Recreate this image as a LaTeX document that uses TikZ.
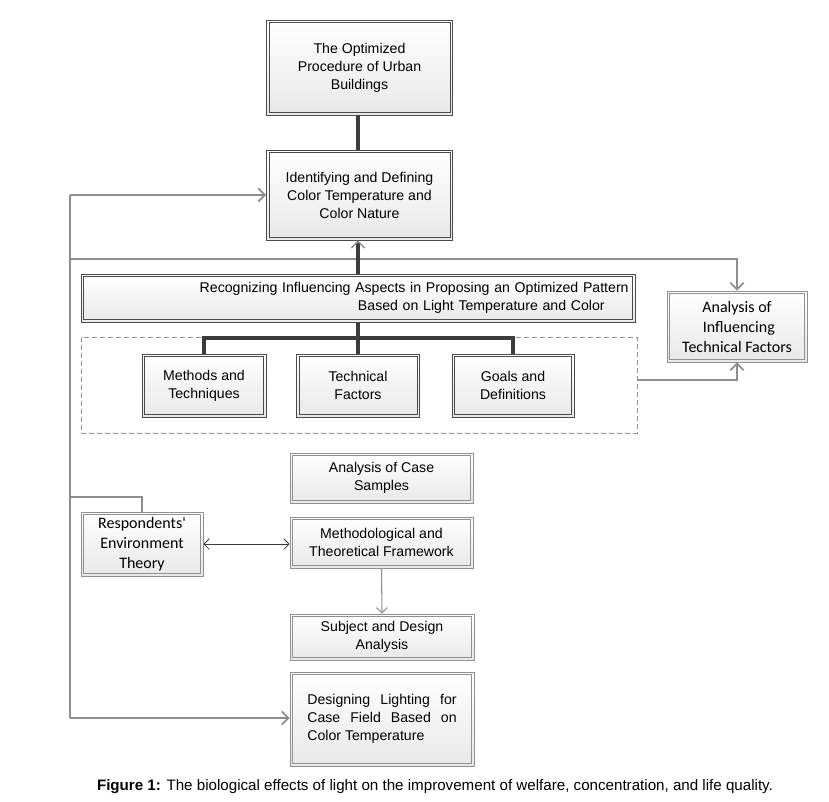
\documentclass[tikz,border=0pt]{standalone}
\usepackage{fontspec}
\setmainfont{Liberation Sans}
\newfontfamily\calfont{Carlito}
\usetikzlibrary{arrows.meta,shadings}
\definecolor{boxdark}{HTML}{4A4A4A}
\definecolor{boxlight}{HTML}{909090}
\definecolor{grayln}{HTML}{8E8E8E}
\definecolor{darkln}{HTML}{3C3C3C}
\definecolor{shadebot}{HTML}{E8E8E8}
\tikzset{
  innerline/.style={path picture={\draw[#1, line width=0.45pt]
     ([shift={(2pt,2pt)}]path picture bounding box.south west) rectangle
     ([shift={(-2pt,-2pt)}]path picture bounding box.north east);}},
  fbox/.style={rectangle, draw=boxdark, line width=0.55pt, innerline=boxdark,
    top color=white, bottom color=shadebot, align=center, inner sep=2pt,
    font=\fontsize{10.6}{13.5}\selectfont, text=black},
  lbox/.style={fbox, draw=boxlight, innerline=boxlight},
  cbox/.style={lbox, font=\calfont\fontsize{12}{15}\selectfont},
  dashbox/.style={rectangle, draw=boxlight, dashed, dash pattern=on 4pt off 2pt, line width=0.5pt},
  grayline/.style={draw=grayln, line width=2.2pt},
  grayarrow/.style={grayline, -{Straight Barb[length=5pt,width=10pt,line width=1.3pt]}},
  darkline/.style={draw=darkln, line width=3pt},
  thingray/.style={draw=grayln, line width=0.8pt, -{Straight Barb[length=4pt,width=8pt,line width=0.8pt]}},
  thinblack/.style={draw=darkln, line width=0.6pt, {Straight Barb[length=4pt,width=8pt,line width=0.6pt]}-{Straight Barb[length=4pt,width=8pt,line width=0.6pt]}}
}
\begin{document}
\begin{tikzpicture}[x=0.75pt,y=-0.75pt]
\useasboundingbox (0,0) rectangle (829,801);
% boxes
\node[fbox, minimum width=139.5pt, minimum height=71.25pt] (opt) at (359.5,67.5) {The Optimized\\Procedure of Urban\\Buildings};
\node[fbox, minimum width=139.5pt, minimum height=67.5pt] (ident) at (359.5,195) {Identifying and Defining\\Color Temperature and\\Color Nature};
\node[fbox, minimum width=415.5pt, minimum height=36pt, text width=406pt, align=right, inner xsep=4.5pt] (recog) at (358,298)
  {Recognizing Influencing Aspects in Proposing an Optimized Pattern\\Based on Light Temperature and Color\hspace*{18pt}};
\node[dashbox, minimum width=417pt, minimum height=72pt] (dash) at (359,385) {};
\node[fbox, minimum width=93pt, minimum height=47.25pt] (meth) at (204,385.5) {Methods and\\Techniques};
\node[fbox, minimum width=92.25pt, minimum height=47.25pt] (tech) at (358,385.5) {Technical\\Factors};
\node[fbox, minimum width=91.5pt, minimum height=47.25pt] (goals) at (513,385.5) {Goals and\\Definitions};
\node[cbox, minimum width=105pt, minimum height=53.25pt] (infl) at (737,326.5) {Analysis of\\\ Influencing\\Technical Factors};
\node[lbox, minimum width=137.25pt, minimum height=37.5pt] (case) at (381.5,478) {Analysis of Case\\Samples};
\node[lbox, minimum width=137.25pt, minimum height=38.25pt] (mtf) at (381.5,542.5) {Methodological and\\Theoretical Framework};
\node[cbox, minimum width=91.5pt, minimum height=48pt] (resp) at (142,544) {Respondents'\\Environment\\Theory};
\node[lbox, minimum width=138pt, minimum height=34.5pt] (subj) at (382,637) {Subject and Design\\Analysis};
\node[lbox, minimum width=138pt, minimum height=70.5pt, align=left] (design) at (382,719)
  {\makebox[112pt][s]{Designing Lighting for}\\\makebox[112pt][s]{Case Field Based on}\\Color Temperature};
% coordinates
\coordinate (Ltop) at (70,195);
\coordinate (Lbot) at (70,718);
\coordinate (Lmid) at (70,259);
\coordinate (Lresp) at (70,497);
\coordinate (dashout) at (637,380);
% gray connectors
\draw[grayline] (Ltop) -- (Lbot);
\draw[grayarrow] (Ltop) -- (ident.west);
\draw[grayarrow] (Lbot) -- (design.west |- Lbot);
\draw[grayarrow] (Lmid) -| (infl.north);
\draw[grayline] (Lresp) -| (resp.north);
\draw[grayarrow] (dashout) -| (infl.south);
% dark connectors
\draw[darkline] (opt.south -| recog.north) -- (ident.north -| recog.north);
\draw[darkline, -{Straight Barb[length=5pt,width=10pt,line width=1.1pt,color=grayln]}] (recog.north) -- (recog.north |- ident.south);
\draw[darkline] (recog.south) -- (tech.north);
\draw[darkline] (meth.north) -- ++(0,-16) -| (goals.north);
% thin connectors
\draw[thinblack] (resp.east) -- (resp.east -| mtf.west);
\draw[thingray] (mtf.south) -- (subj.north);
% caption
\node (cap) at (435,787) {\resizebox{507pt}{!}{\fontsize{10.5}{12}\selectfont\textbf{Figure 1:} The biological effects of light on the improvement of welfare, concentration, and life quality.}};
\end{tikzpicture}
\end{document}
